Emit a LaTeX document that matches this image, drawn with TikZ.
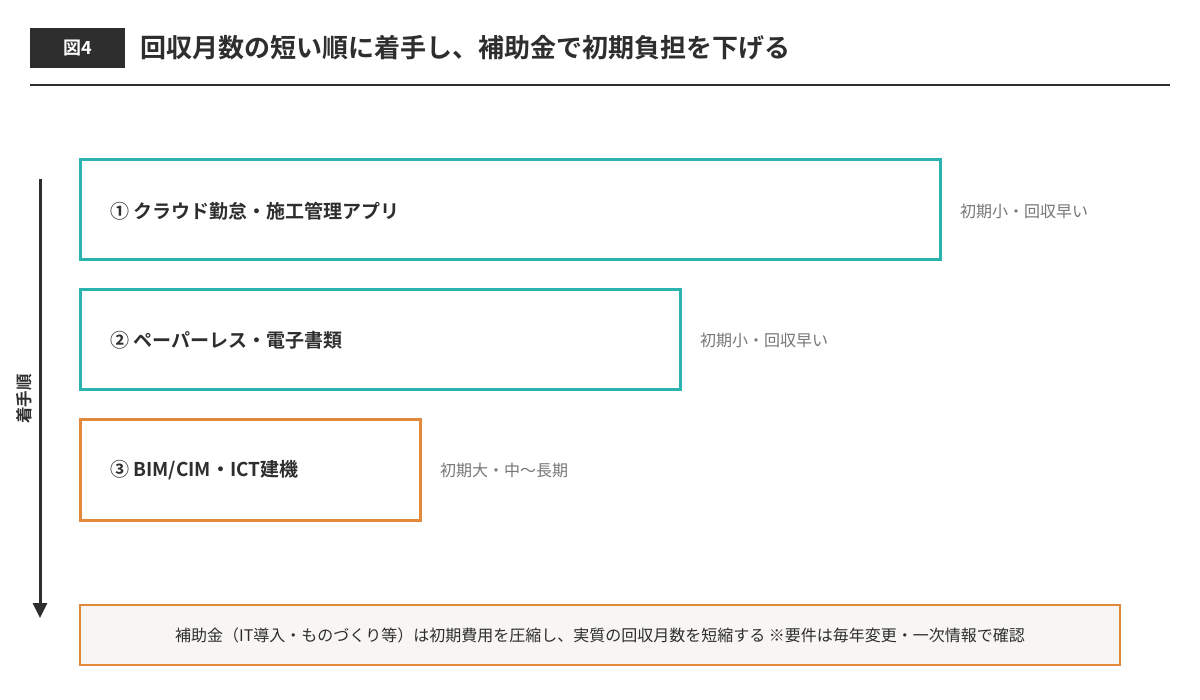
\documentclass[tikz,border=0pt]{standalone}
\usepackage{fontspec}
\usepackage{tikz}
\usetikzlibrary{arrows.meta}
\setmainfont{Noto Sans CJK JP}
\newfontfamily\jpbold{Noto Sans CJK JP Bold}
\definecolor{inkdark}{HTML}{2E2E2E}
\definecolor{inkgray}{HTML}{77777A}
\definecolor{teal}{HTML}{2BB3B0}
\definecolor{orng}{HTML}{E3893A}
\definecolor{paper}{HTML}{F7F6F3}
\newcommand*{\sz}[1]{\fontsize{#1}{#1}\selectfont}

\begin{document}
\begin{tikzpicture}[x=1pt, y=-1pt,
		stepbox/.style={line width=3pt},
		boxtext/.style={anchor=west, inner sep=0pt, text=inkdark, font=\jpbold\sz{19}},
		sidetext/.style={anchor=west, inner sep=0pt, text=inkgray, font=\sz{16}}]
		\useasboundingbox[fill=white] (0,0) rectangle (1200,700);
		% header
		\fill[inkdark] (30,28) rectangle (125,68);
		\node[text=white, font=\jpbold\sz{18}] (fig) at (78,48) {図4};
		\node[anchor=west, inner sep=0pt, text=inkdark, font=\jpbold\sz{26}] (title) at (140,48)
		{回収月数の短い順に着手し、補助金で初期負担を下げる};
		\coordinate (R1) at (30,85);
		\coordinate (R2) at (1170,85);
		\draw[inkdark, line width=2pt] (R1) -- (R2);
		
		% order arrow
		\coordinate (T) at (40,179);
		\coordinate (E) at (40,618);
		\draw[inkdark, line width=3pt, -{Triangle[length=15pt,width=14pt]}] (T) -- (E);
		\node[rotate=90, text=inkdark, font=\jpbold\sz{16.5}] (order) at (24,399) {着手順};
		
		% steps
		\draw[teal, stepbox] (80,160) rectangle (940,260);
		\node[boxtext] (s1) at (110,211) {① クラウド勤怠・施工管理アプリ};
		\node[sidetext] (c1) at (960,211) {初期小・回収早い};
		
		\draw[teal, stepbox] (80,290) rectangle (680,390);
		\node[boxtext] (s2) at (110,340) {② ペーパーレス・電子書類};
		\node[sidetext] (c2) at (700,340) {初期小・回収早い};
		
		\draw[orng, stepbox] (80,420) rectangle (420,520);
		\node[boxtext] (s3) at (110,470) {③ BIM/CIM・ICT建機};
		\node[sidetext] (c3) at (440,470) {初期大・中〜長期};
		
		% subsidy note
		\draw[orng, fill=paper, line width=2.4pt] (80,605) rectangle (1120,665);
		\node[text=inkdark, font=\sz{16}] (note) at (600,635)
		{補助金（IT導入・ものづくり等）は初期費用を圧縮し、実質の回収月数を短縮する ※要件は毎年変更・一次情報で確認};
\end{tikzpicture}
\end{document}
